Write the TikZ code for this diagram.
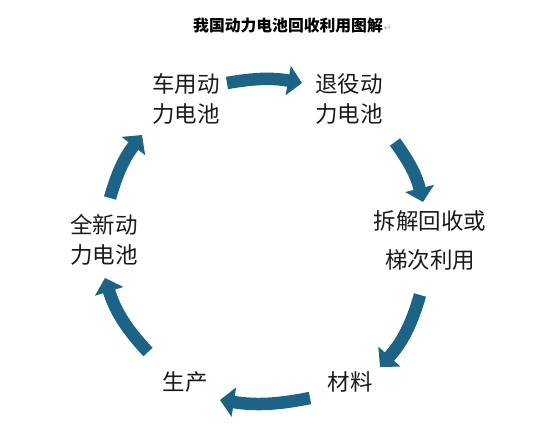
\documentclass[tikz,border=0pt]{standalone}
\usepackage{fontspec}
\newfontfamily\cjk{Noto Sans CJK SC}
\newfontfamily\dejavu{DejaVu Sans}
\usetikzlibrary{arrows.meta}
\definecolor{arrowblue}{RGB}{27,100,135}
\definecolor{txt}{RGB}{26,26,26}
\begin{document}
\begin{tikzpicture}[x=1pt,y=1pt,
  lbl/.style={font=\cjk\fontsize{22.5}{30}\selectfont, text=txt, align=center, inner sep=0pt},
  cyc/.style={draw=arrowblue, line width=12.5pt, -{Triangle[width=29pt,length=14pt]}},
  bl/.style={bend left=#1}]
\useasboundingbox (0,0) rectangle (543,424);
\node[font=\cjk\bfseries\fontsize{15.8}{18}\selectfont, anchor=west, inner sep=0pt] (title) at (193,398.5) {我国动力电池回收利用图解};
\node[font=\dejavu\fontsize{10}{11}\selectfont, text=gray!55, anchor=base west, inner sep=0.5pt] (retmark) at (title.base east) {↵};

\node[lbl] (car) at (186,325) {车用动\\力电池};
\node[lbl] (old) at (349,325) {退役动\\力电池};
\node[lbl, font=\cjk\fontsize{22.5}{39}\selectfont] (dis) at (430,183.5) {拆解回收或\\梯次利用};
\node[lbl] (mat) at (350,42) {材料};
\node[lbl] (prod) at (185,42) {生产};
\node[lbl] (new) at (104,184) {全新动\\力电池};

\coordinate (a1s) at (227,341); \coordinate (a1e) at (302,341);
\coordinate (a2s) at (395,282); \coordinate (a2e) at (423,222);
\coordinate (a3s) at (420,129); \coordinate (a3e) at (380,57);
\coordinate (a4s) at (310,26);  \coordinate (a4e) at (220,24);
\coordinate (a5s) at (148,72);  \coordinate (a5e) at (105,146);
\coordinate (a6s) at (110,226); \coordinate (a6e) at (142,289);

\draw[cyc] (a1s) to[bl=10] (a1e);
\draw[cyc] (a2s) to[bl=11] (a2e);
\draw[cyc] (a3s) to[bl=13] (a3e);
\draw[cyc] (a4s) to[bl=10] (a4e);
\draw[cyc] (a5s) to[bl=13] (a5e);
\draw[cyc] (a6s) to[bl=11] (a6e);
\end{tikzpicture}
\end{document}
